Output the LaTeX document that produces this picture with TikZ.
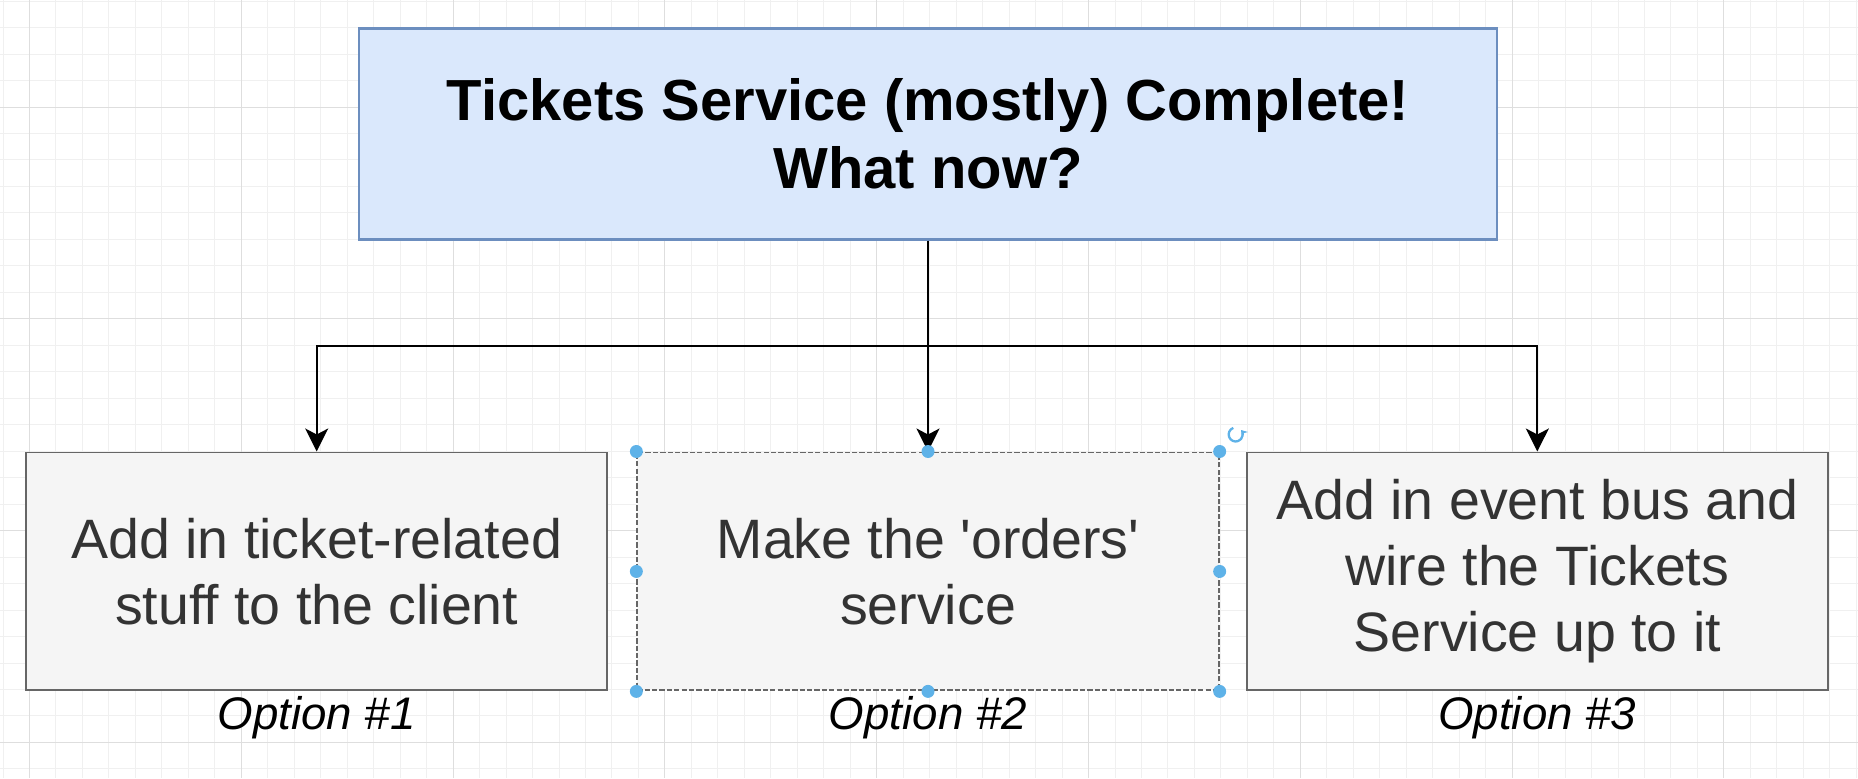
\documentclass[tikz,border=0pt]{standalone}
\usepackage{fontspec}
\setmainfont{Liberation Sans}
\usetikzlibrary{arrows.meta,positioning,calc}
\definecolor{tkblue}{RGB}{218,232,252}
\definecolor{tkline}{RGB}{108,142,191}
\definecolor{optfill}{RGB}{245,245,245}
\definecolor{optline}{RGB}{102,102,102}
\definecolor{opttext}{RGB}{51,51,51}
\definecolor{hdlblue}{RGB}{94,178,232}
\definecolor{gridmin}{RGB}{240,240,240}
\definecolor{gridmaj}{RGB}{222,222,222}
\tikzset{
  topbox/.style={draw=tkline, fill=tkblue, line width=1.2pt,
                 minimum width=22.76cm, minimum height=4.22cm, align=center,
                 font=\bfseries\fontsize{33}{39}\selectfont},
  optbox/.style={draw=optline, fill=optfill, line width=1.1pt,
                 minimum width=11.63cm, minimum height=4.76cm, align=center,
                 text=opttext, font=\fontsize{31.6}{37.5}\selectfont},
  selected/.style={dash pattern=on 3pt off 1.2pt},
  optlbl/.style={inner sep=0pt, font=\itshape\fontsize{26}{30}\selectfont},
  flowarr/.style={-{Stealth[length=0.46cm, width=0.46cm, inset=0.12cm]}, line width=1.1pt},
  hdl/.style={fill=hdlblue},
  gline/.style={line width=0.55pt},
}
\begin{document}
\begin{tikzpicture}[x=0.02cm, y=-0.02cm]
  \fill[white] (0,0) rectangle (1858,778);
  \useasboundingbox (0,0) rectangle (1858,778);
  % grid
  \foreach \i in {-1,...,69}{\draw[gridmin, gline] ({29.5+26.475*\i},0) -- ({29.5+26.475*\i},778);}
  \foreach \i in {-4,...,25}{\draw[gridmin, gline] (0,{107+26.475*\i}) -- (1858,{107+26.475*\i});}
  \foreach \i in {0,...,8}{\draw[gridmaj, gline] ({29.5+211.8*\i},0) -- ({29.5+211.8*\i},778);}
  \foreach \i in {0,...,3}{\draw[gridmaj, gline] (0,{107+211.8*\i}) -- (1858,{107+211.8*\i});}

  \node[topbox] (top) at (928,134) {Tickets Service (mostly) Complete!\\What now?};
  \node[optbox, selected, below=4.22cm of top] (b2) {Make the \textquotesingle orders\textquotesingle\\service};
  \node[optbox, left=0.56cm of b2] (b1) {Add in ticket-related\\stuff to the client};
  \node[optbox, right=0.52cm of b2] (b3) {Add in event bus and\\wire the Tickets\\Service up to it};

  \node[optlbl, below=0.1cm of b1] (lbl1) {Option \#1};
  \node[optlbl, below=0.1cm of b2] (lbl2) {Option \#2};
  \node[optlbl, below=0.1cm of b3] (lbl3) {Option \#3};

  \coordinate (fork) at ($(top.south)+(0,105)$);
  \draw[flowarr] (top.south) -- (fork) -| (b1.north);
  \draw[flowarr] (fork) -- (b2.north);
  \draw[flowarr] (fork) -| (b3.north);

  % selection handles
  \foreach \a in {north west,north,north east,east,south east,south,south west,west}{
    \fill[hdl] (b2.\a) circle (0.13cm);}
  \coordinate (rot) at ($(b2.north east)+(16,-17)$);
  \draw[hdlblue, line width=1.3pt, -{Stealth[length=0.12cm, width=0.16cm]}]
    ($(rot)+(110:0.14cm)$) arc[start angle=110, end angle=400, radius=0.14cm];
\end{tikzpicture}
\end{document}
